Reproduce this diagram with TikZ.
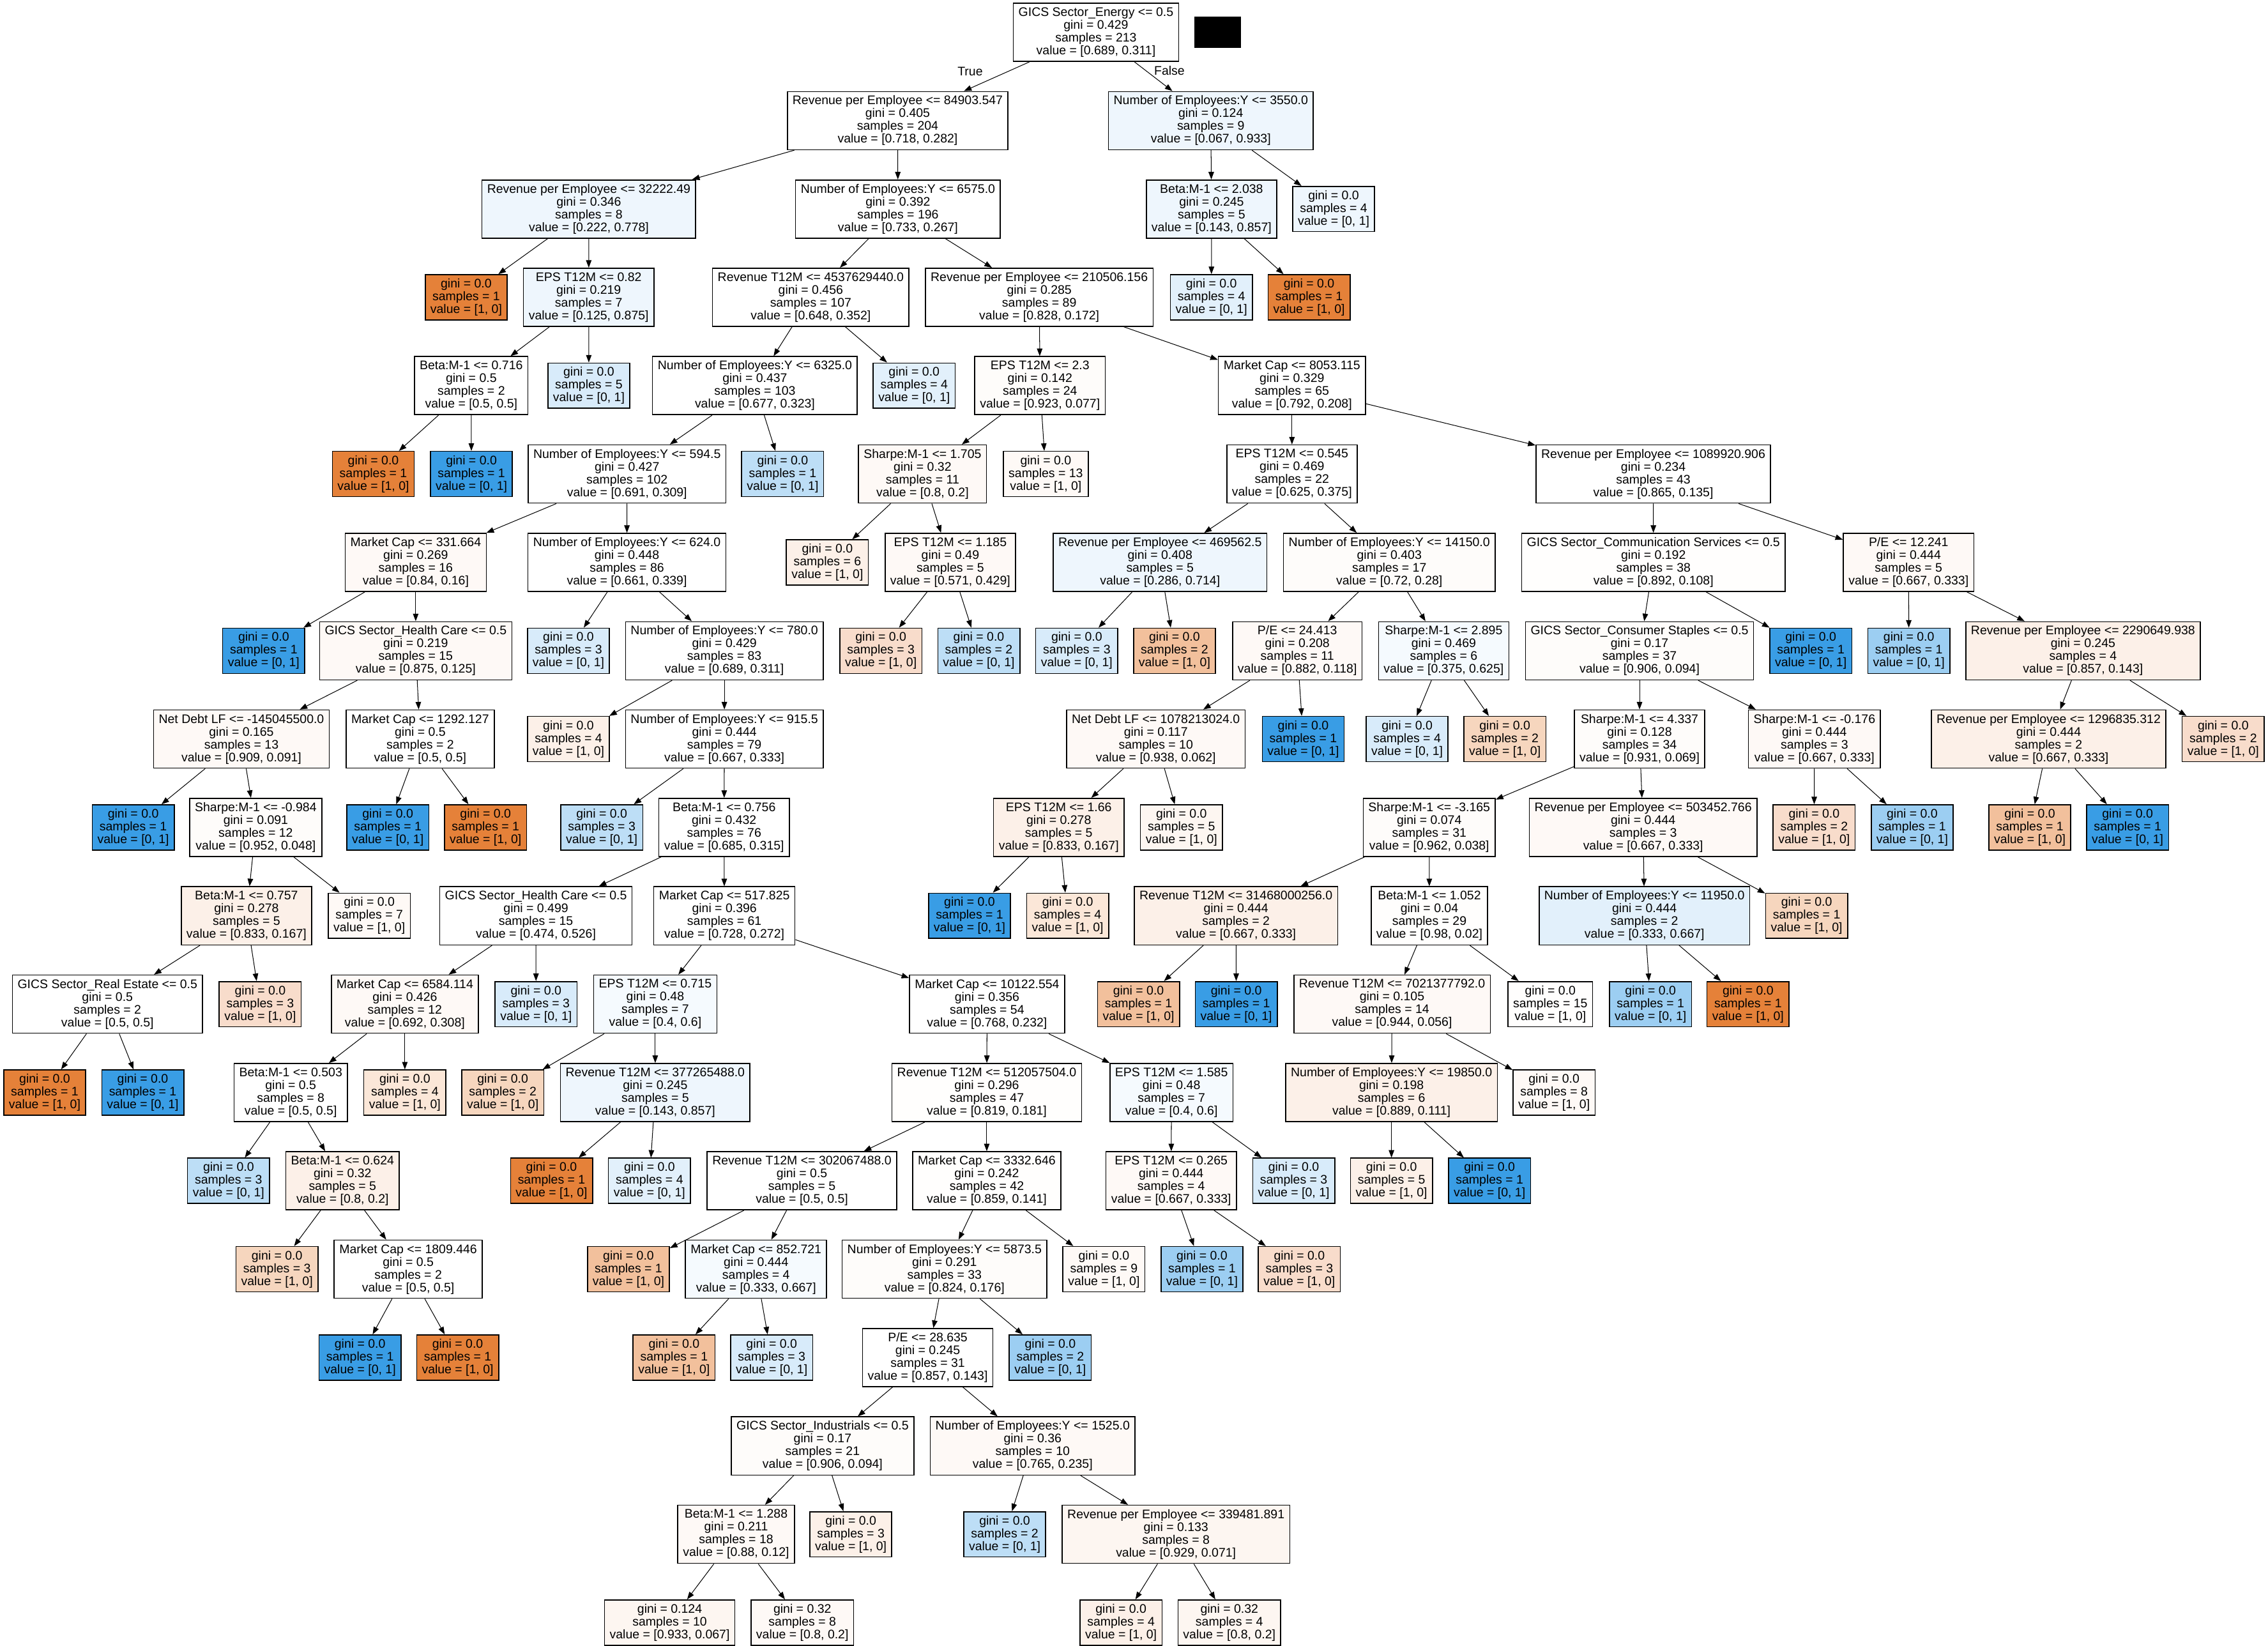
\documentclass[tikz,border=0pt]{standalone}
\usepackage{fontspec}
\setmainfont{Liberation Sans}
\usetikzlibrary{arrows.meta}
\definecolor{orfull}{HTML}{E58139}
\definecolor{or1}{HTML}{FFFEFD}
\definecolor{or2}{HTML}{FEFCFA}
\definecolor{or3}{HTML}{FEF9F6}
\definecolor{or4}{HTML}{FDF6F1}
\definecolor{or5}{HTML}{FCF0E8}
\definecolor{or6}{HTML}{FBE7D8}
\definecolor{or7}{HTML}{F8DCCB}
\definecolor{or8}{HTML}{F6D6BE}
\definecolor{or9}{HTML}{F2C09C}
\definecolor{blfull}{HTML}{399DE5}
\definecolor{bl1}{HTML}{F5FAFE}
\definecolor{bl2}{HTML}{EEF6FD}
\definecolor{bl3}{HTML}{E2F0FB}
\definecolor{bl4}{HTML}{D8EBFA}
\definecolor{bl5}{HTML}{BDDEF6}
\definecolor{bl6}{HTML}{9CCEF2}
\tikzset{
	treebox/.style={draw=black, line width=0.7pt, fill=white, rectangle, align=center, inner xsep=3.6pt, inner ysep=1pt, font=\fontsize{8.6}{8.83}\selectfont, text=black},
	splitbox/.style={treebox, minimum height=40.2pt},
	leafbox/.style={treebox, minimum height=31.3pt},
	link/.style={draw=black, line width=0.45pt, -{Triangle[length=5.2pt, width=3.8pt]}},
	edgelabel/.style={font=\fontsize{8.6}{8.83}\selectfont, inner sep=0pt, text=black}
}
\begin{document}
\begin{tikzpicture}[x=1pt, y=-1pt]
	\useasboundingbox[fill=white] (0,0) rectangle (1568,1137.9);
	\fill[black] (825.7,11.5) rectangle (858,33.1);
	\node[splitbox] (A) at (757.7,22.3) {GICS Sector\_Energy <= 0.5\\gini = 0.429\\samples = 213\\value = [0.689, 0.311]};
	\node[splitbox] (B) at (620.6,83.4) {Revenue per Employee <= 84903.547\\gini = 0.405\\samples = 204\\value = [0.718, 0.282]};
	\node[splitbox, fill=bl2] (C) at (837.1,83.4) {Number of Employees:Y <= 3550.0\\gini = 0.124\\samples = 9\\value = [0.067, 0.933]};
	\node[splitbox, fill=bl2] (D) at (407.1,144.5) {Revenue per Employee <= 32222.49\\gini = 0.346\\samples = 8\\value = [0.222, 0.778]};
	\node[splitbox] (E) at (620.8,144.5) {Number of Employees:Y <= 6575.0\\gini = 0.392\\samples = 196\\value = [0.733, 0.267]};
	\node[splitbox, fill=bl2] (F) at (837.6,144.5) {Beta:M-1 <= 2.038\\gini = 0.245\\samples = 5\\value = [0.143, 0.857]};
	\node[leafbox, fill=bl2] (G) at (922.0,144.5) {gini = 0.0\\samples = 4\\value = [0, 1]};
	\node[leafbox, fill=orfull] (H) at (322.3,205.5) {gini = 0.0\\samples = 1\\value = [1, 0]};
	\node[splitbox, fill=bl2] (I) at (407.0,205.5) {EPS T12M <= 0.82\\gini = 0.219\\samples = 7\\value = [0.125, 0.875]};
	\node[splitbox] (J) at (560.5,205.5) {Revenue T12M <= 4537629440.0\\gini = 0.456\\samples = 107\\value = [0.648, 0.352]};
	\node[splitbox] (K) at (718.5,205.5) {Revenue per Employee <= 210506.156\\gini = 0.285\\samples = 89\\value = [0.828, 0.172]};
	\node[leafbox, fill=bl3] (L) at (837.5,205.5) {gini = 0.0\\samples = 4\\value = [0, 1]};
	\node[leafbox, fill=orfull] (M) at (905.0,205.5) {gini = 0.0\\samples = 1\\value = [1, 0]};
	\node[splitbox] (N) at (325.8,266.6) {Beta:M-1 <= 0.716\\gini = 0.5\\samples = 2\\value = [0.5, 0.5]};
	\node[leafbox, fill=bl4] (O) at (407.1,266.6) {gini = 0.0\\samples = 5\\value = [0, 1]};
	\node[splitbox] (P) at (521.9,266.6) {Number of Employees:Y <= 6325.0\\gini = 0.437\\samples = 103\\value = [0.677, 0.323]};
	\node[leafbox, fill=bl3] (Q) at (632.0,266.6) {gini = 0.0\\samples = 4\\value = [0, 1]};
	\node[splitbox, fill=or2] (R) at (719.0,266.6) {EPS T12M <= 2.3\\gini = 0.142\\samples = 24\\value = [0.923, 0.077]};
	\node[splitbox] (S) at (893.2,266.6) {Market Cap <= 8053.115\\gini = 0.329\\samples = 65\\value = [0.792, 0.208]};
	\node[leafbox, fill=orfull] (T) at (258.1,327.7) {gini = 0.0\\samples = 1\\value = [1, 0]};
	\node[leafbox, fill=blfull] (U) at (325.9,327.7) {gini = 0.0\\samples = 1\\value = [0, 1]};
	\node[splitbox] (V) at (433.5,327.7) {Number of Employees:Y <= 594.5\\gini = 0.427\\samples = 102\\value = [0.691, 0.309]};
	\node[leafbox, fill=bl5] (W) at (541.1,327.7) {gini = 0.0\\samples = 1\\value = [0, 1]};
	\node[splitbox, fill=or3] (X) at (637.8,327.7) {Sharpe:M-1 <= 1.705\\gini = 0.32\\samples = 11\\value = [0.8, 0.2]};
	\node[leafbox, fill=or3] (Y) at (723.0,327.7) {gini = 0.0\\samples = 13\\value = [1, 0]};
	\node[splitbox] (Z) at (893.2,327.7) {EPS T12M <= 0.545\\gini = 0.469\\samples = 22\\value = [0.625, 0.375]};
	\node[splitbox] (AA) at (1143.0,327.7) {Revenue per Employee <= 1089920.906\\gini = 0.234\\samples = 43\\value = [0.865, 0.135]};
	\node[splitbox, fill=or3] (AB) at (287.4,388.8) {Market Cap <= 331.664\\gini = 0.269\\samples = 16\\value = [0.84, 0.16]};
	\node[splitbox] (AC) at (433.4,388.8) {Number of Employees:Y <= 624.0\\gini = 0.448\\samples = 86\\value = [0.661, 0.339]};
	\node[leafbox, fill=or5] (AD) at (572.0,388.8) {gini = 0.0\\samples = 6\\value = [1, 0]};
	\node[splitbox, fill=or3] (AE) at (657.0,388.8) {EPS T12M <= 1.185\\gini = 0.49\\samples = 5\\value = [0.571, 0.429]};
	\node[splitbox, fill=bl2] (AF) at (802.0,388.8) {Revenue per Employee <= 469562.5\\gini = 0.408\\samples = 5\\value = [0.286, 0.714]};
	\node[splitbox, fill=or2] (AG) at (960.5,388.8) {Number of Employees:Y <= 14150.0\\gini = 0.403\\samples = 17\\value = [0.72, 0.28]};
	\node[splitbox, fill=or1] (AH) at (1143.1,388.8) {GICS Sector\_Communication Services <= 0.5\\gini = 0.192\\samples = 38\\value = [0.892, 0.108]};
	\node[splitbox, fill=or3] (AI) at (1319.5,388.8) {P/E <= 12.241\\gini = 0.444\\samples = 5\\value = [0.667, 0.333]};
	\node[leafbox, fill=blfull] (AJ) at (182.3,449.9) {gini = 0.0\\samples = 1\\value = [0, 1]};
	\node[splitbox, fill=or3] (AK) at (287.4,449.9) {GICS Sector\_Health Care <= 0.5\\gini = 0.219\\samples = 15\\value = [0.875, 0.125]};
	\node[leafbox, fill=bl4] (AL) at (393.0,449.9) {gini = 0.0\\samples = 3\\value = [0, 1]};
	\node[splitbox] (AM) at (500.8,449.9) {Number of Employees:Y <= 780.0\\gini = 0.429\\samples = 83\\value = [0.689, 0.311]};
	\node[leafbox, fill=or7] (AN) at (609.0,449.9) {gini = 0.0\\samples = 3\\value = [1, 0]};
	\node[leafbox, fill=bl5] (AO) at (676.7,449.9) {gini = 0.0\\samples = 2\\value = [0, 1]};
	\node[leafbox, fill=bl4] (AP) at (744.4,449.9) {gini = 0.0\\samples = 3\\value = [0, 1]};
	\node[leafbox, fill=or9] (AQ) at (812.0,449.9) {gini = 0.0\\samples = 2\\value = [1, 0]};
	\node[splitbox, fill=or3] (AR) at (896.9,449.9) {P/E <= 24.413\\gini = 0.208\\samples = 11\\value = [0.882, 0.118]};
	\node[splitbox, fill=bl1] (AS) at (998.1,449.9) {Sharpe:M-1 <= 2.895\\gini = 0.469\\samples = 6\\value = [0.375, 0.625]};
	\node[splitbox, fill=or2] (AT) at (1133.5,449.9) {GICS Sector\_Consumer Staples <= 0.5\\gini = 0.17\\samples = 37\\value = [0.906, 0.094]};
	\node[leafbox, fill=blfull] (AU) at (1251.9,449.9) {gini = 0.0\\samples = 1\\value = [0, 1]};
	\node[leafbox, fill=bl6] (AV) at (1319.7,449.9) {gini = 0.0\\samples = 1\\value = [0, 1]};
	\node[splitbox, fill=or5] (AW) at (1440.1,449.9) {Revenue per Employee <= 2290649.938\\gini = 0.245\\samples = 4\\value = [0.857, 0.143]};
	\node[splitbox, fill=or3] (AX) at (166.9,510.9) {Net Debt LF <= -145045500.0\\gini = 0.165\\samples = 13\\value = [0.909, 0.091]};
	\node[splitbox] (AY) at (290.5,510.9) {Market Cap <= 1292.127\\gini = 0.5\\samples = 2\\value = [0.5, 0.5]};
	\node[leafbox, fill=or5] (AZ) at (393.0,510.9) {gini = 0.0\\samples = 4\\value = [1, 0]};
	\node[splitbox] (BA) at (500.8,510.9) {Number of Employees:Y <= 915.5\\gini = 0.444\\samples = 79\\value = [0.667, 0.333]};
	\node[splitbox, fill=or3] (BB) at (799.1,510.9) {Net Debt LF <= 1078213024.0\\gini = 0.117\\samples = 10\\value = [0.938, 0.062]};
	\node[leafbox, fill=blfull] (BC) at (901.0,510.9) {gini = 0.0\\samples = 1\\value = [0, 1]};
	\node[leafbox, fill=bl4] (BD) at (972.8,510.9) {gini = 0.0\\samples = 4\\value = [0, 1]};
	\node[leafbox, fill=or8] (BE) at (1040.4,510.9) {gini = 0.0\\samples = 2\\value = [1, 0]};
	\node[splitbox, fill=or2] (BF) at (1133.5,510.9) {Sharpe:M-1 <= 4.337\\gini = 0.128\\samples = 34\\value = [0.931, 0.069]};
	\node[splitbox, fill=or3] (BG) at (1254.4,510.9) {Sharpe:M-1 <= -0.176\\gini = 0.444\\samples = 3\\value = [0.667, 0.333]};
	\node[splitbox, fill=or5] (BH) at (1416.3,510.9) {Revenue per Employee <= 1296835.312\\gini = 0.444\\samples = 2\\value = [0.667, 0.333]};
	\node[leafbox, fill=or7] (BI) at (1537.0,510.9) {gini = 0.0\\samples = 2\\value = [1, 0]};
	\node[leafbox, fill=blfull] (BJ) at (92.1,572.0) {gini = 0.0\\samples = 1\\value = [0, 1]};
	\node[splitbox, fill=or2] (BK) at (176.8,572.0) {Sharpe:M-1 <= -0.984\\gini = 0.091\\samples = 12\\value = [0.952, 0.048]};
	\node[leafbox, fill=blfull] (BL) at (268.1,572.0) {gini = 0.0\\samples = 1\\value = [0, 1]};
	\node[leafbox, fill=orfull] (BM) at (335.7,572.0) {gini = 0.0\\samples = 1\\value = [1, 0]};
	\node[leafbox, fill=bl5] (BN) at (416.0,572.0) {gini = 0.0\\samples = 3\\value = [0, 1]};
	\node[splitbox] (BO) at (500.6,572.0) {Beta:M-1 <= 0.756\\gini = 0.432\\samples = 76\\value = [0.685, 0.315]};
	\node[splitbox, fill=or5] (BP) at (732.0,572.0) {EPS T12M <= 1.66\\gini = 0.278\\samples = 5\\value = [0.833, 0.167]};
	\node[leafbox, fill=or4] (BQ) at (816.8,572.0) {gini = 0.0\\samples = 5\\value = [1, 0]};
	\node[splitbox, fill=or2] (BR) at (988.1,572.0) {Sharpe:M-1 <= -3.165\\gini = 0.074\\samples = 31\\value = [0.962, 0.038]};
	\node[splitbox, fill=or3] (BS) at (1136.0,572.0) {Revenue per Employee <= 503452.766\\gini = 0.444\\samples = 3\\value = [0.667, 0.333]};
	\node[leafbox, fill=or7] (BT) at (1254.2,572.0) {gini = 0.0\\samples = 2\\value = [1, 0]};
	\node[leafbox, fill=bl6] (BU) at (1322.0,572.0) {gini = 0.0\\samples = 1\\value = [0, 1]};
	\node[leafbox, fill=or9] (BV) at (1403.3,572.0) {gini = 0.0\\samples = 1\\value = [1, 0]};
	\node[leafbox, fill=blfull] (BW) at (1470.9,572.0) {gini = 0.0\\samples = 1\\value = [0, 1]};
	\node[splitbox, fill=or5] (BX) at (170.4,633.1) {Beta:M-1 <= 0.757\\gini = 0.278\\samples = 5\\value = [0.833, 0.167]};
	\node[leafbox, fill=or3] (BY) at (255.3,633.1) {gini = 0.0\\samples = 7\\value = [1, 0]};
	\node[splitbox] (BZ) at (370.5,633.1) {GICS Sector\_Health Care <= 0.5\\gini = 0.499\\samples = 15\\value = [0.474, 0.526]};
	\node[splitbox] (CA) at (500.8,633.1) {Market Cap <= 517.825\\gini = 0.396\\samples = 61\\value = [0.728, 0.272]};
	\node[leafbox, fill=blfull] (CB) at (670.3,633.1) {gini = 0.0\\samples = 1\\value = [0, 1]};
	\node[leafbox, fill=or6] (CC) at (738.1,633.1) {gini = 0.0\\samples = 4\\value = [1, 0]};
	\node[splitbox, fill=or5] (CD) at (854.5,633.1) {Revenue T12M <= 31468000256.0\\gini = 0.444\\samples = 2\\value = [0.667, 0.333]};
	\node[splitbox, fill=or1] (CE) at (988.2,633.1) {Beta:M-1 <= 1.052\\gini = 0.04\\samples = 29\\value = [0.98, 0.02]};
	\node[splitbox, fill=bl3] (CF) at (1136.9,633.1) {Number of Employees:Y <= 11950.0\\gini = 0.444\\samples = 2\\value = [0.333, 0.667]};
	\node[leafbox, fill=or8] (CF2) at (1249.0,633.1) {gini = 0.0\\samples = 1\\value = [1, 0]};
	\node[splitbox] (CG) at (74.3,694.2) {GICS Sector\_Real Estate <= 0.5\\gini = 0.5\\samples = 2\\value = [0.5, 0.5]};
	\node[leafbox, fill=or7] (CH) at (179.9,694.2) {gini = 0.0\\samples = 3\\value = [1, 0]};
	\node[splitbox, fill=or3] (CI) at (279.9,694.2) {Market Cap <= 6584.114\\gini = 0.426\\samples = 12\\value = [0.692, 0.308]};
	\node[leafbox, fill=bl4] (CJ) at (370.6,694.2) {gini = 0.0\\samples = 3\\value = [0, 1]};
	\node[splitbox, fill=bl1] (CK) at (453.0,694.2) {EPS T12M <= 0.715\\gini = 0.48\\samples = 7\\value = [0.4, 0.6]};
	\node[splitbox] (CL) at (682.4,694.2) {Market Cap <= 10122.554\\gini = 0.356\\samples = 54\\value = [0.768, 0.232]};
	\node[leafbox, fill=or9] (CM) at (787.1,694.2) {gini = 0.0\\samples = 1\\value = [1, 0]};
	\node[leafbox, fill=blfull] (CN) at (854.7,694.2) {gini = 0.0\\samples = 1\\value = [0, 1]};
	\node[splitbox, fill=or3] (CO) at (962.4,694.2) {Revenue T12M <= 7021377792.0\\gini = 0.105\\samples = 14\\value = [0.944, 0.056]};
	\node[leafbox, fill=or1] (CP) at (1071.8,694.2) {gini = 0.0\\samples = 15\\value = [1, 0]};
	\node[leafbox, fill=bl6] (CQ) at (1141.1,694.2) {gini = 0.0\\samples = 1\\value = [0, 1]};
	\node[leafbox, fill=orfull] (CR) at (1208.5,694.2) {gini = 0.0\\samples = 1\\value = [1, 0]};
	\node[leafbox, fill=orfull] (CS) at (30.9,755.3) {gini = 0.0\\samples = 1\\value = [1, 0]};
	\node[leafbox, fill=blfull] (CT) at (98.7,755.3) {gini = 0.0\\samples = 1\\value = [0, 1]};
	\node[splitbox] (CU) at (201.0,755.3) {Beta:M-1 <= 0.503\\gini = 0.5\\samples = 8\\value = [0.5, 0.5]};
	\node[leafbox, fill=or6] (CV) at (279.9,755.3) {gini = 0.0\\samples = 4\\value = [1, 0]};
	\node[leafbox, fill=or8] (CW) at (347.6,755.3) {gini = 0.0\\samples = 2\\value = [1, 0]};
	\node[splitbox, fill=bl2] (CX) at (453.0,755.3) {Revenue T12M <= 377265488.0\\gini = 0.245\\samples = 5\\value = [0.143, 0.857]};
	\node[splitbox, fill=or1] (CY) at (682.2,755.3) {Revenue T12M <= 512057504.0\\gini = 0.296\\samples = 47\\value = [0.819, 0.181]};
	\node[splitbox, fill=bl1] (CZ) at (809.9,755.3) {EPS T12M <= 1.585\\gini = 0.48\\samples = 7\\value = [0.4, 0.6]};
	\node[splitbox, fill=or5] (DA) at (962.0,755.3) {Number of Employees:Y <= 19850.0\\gini = 0.198\\samples = 6\\value = [0.889, 0.111]};
	\node[leafbox, fill=or3] (DB) at (1074.4,755.3) {gini = 0.0\\samples = 8\\value = [1, 0]};
	\node[leafbox, fill=bl5] (DC) at (158.0,816.3) {gini = 0.0\\samples = 3\\value = [0, 1]};
	\node[splitbox, fill=or5] (DD) at (236.8,816.3) {Beta:M-1 <= 0.624\\gini = 0.32\\samples = 5\\value = [0.8, 0.2]};
	\node[leafbox, fill=orfull] (DE) at (381.3,816.3) {gini = 0.0\\samples = 1\\value = [1, 0]};
	\node[leafbox, fill=bl3] (DF) at (449.0,816.3) {gini = 0.0\\samples = 4\\value = [0, 1]};
	\node[splitbox] (DG) at (554.4,816.3) {Revenue T12M <= 302067488.0\\gini = 0.5\\samples = 5\\value = [0.5, 0.5]};
	\node[splitbox, fill=or1] (DH) at (682.2,816.3) {Market Cap <= 3332.646\\gini = 0.242\\samples = 42\\value = [0.859, 0.141]};
	\node[splitbox, fill=or3] (DI) at (809.7,816.3) {EPS T12M <= 0.265\\gini = 0.444\\samples = 4\\value = [0.667, 0.333]};
	\node[leafbox, fill=bl4] (DJ) at (894.4,816.3) {gini = 0.0\\samples = 3\\value = [0, 1]};
	\node[leafbox, fill=or5] (DK) at (962.0,816.3) {gini = 0.0\\samples = 5\\value = [1, 0]};
	\node[leafbox, fill=blfull] (DL) at (1029.8,816.3) {gini = 0.0\\samples = 1\\value = [0, 1]};
	\node[leafbox, fill=or8] (DM) at (191.5,877.4) {gini = 0.0\\samples = 3\\value = [1, 0]};
	\node[splitbox] (DN) at (282.2,877.4) {Market Cap <= 1809.446\\gini = 0.5\\samples = 2\\value = [0.5, 0.5]};
	\node[leafbox, fill=or9] (DO) at (434.5,877.4) {gini = 0.0\\samples = 1\\value = [1, 0]};
	\node[splitbox, fill=bl1] (DP) at (522.7,877.4) {Market Cap <= 852.721\\gini = 0.444\\samples = 4\\value = [0.333, 0.667]};
	\node[splitbox, fill=or2] (DQ) at (653.0,877.4) {Number of Employees:Y <= 5873.5\\gini = 0.291\\samples = 33\\value = [0.824, 0.176]};
	\node[leafbox, fill=or3] (DR) at (763.2,877.4) {gini = 0.0\\samples = 9\\value = [1, 0]};
	\node[leafbox, fill=bl6] (DS) at (831.0,877.4) {gini = 0.0\\samples = 1\\value = [0, 1]};
	\node[leafbox, fill=or7] (DT) at (898.3,877.4) {gini = 0.0\\samples = 3\\value = [1, 0]};
	\node[leafbox, fill=blfull] (DU) at (248.9,938.5) {gini = 0.0\\samples = 1\\value = [0, 1]};
	\node[leafbox, fill=orfull] (DV) at (316.4,938.5) {gini = 0.0\\samples = 1\\value = [1, 0]};
	\node[leafbox, fill=or9] (DW) at (466.0,938.5) {gini = 0.0\\samples = 1\\value = [1, 0]};
	\node[leafbox, fill=bl4] (DX) at (533.5,938.5) {gini = 0.0\\samples = 3\\value = [0, 1]};
	\node[splitbox] (DY) at (641.4,938.5) {P/E <= 28.635\\gini = 0.245\\samples = 31\\value = [0.857, 0.143]};
	\node[leafbox, fill=bl6] (DZ) at (726.1,938.5) {gini = 0.0\\samples = 2\\value = [0, 1]};
	\node[splitbox, fill=or2] (EA) at (568.7,999.6) {GICS Sector\_Industrials <= 0.5\\gini = 0.17\\samples = 21\\value = [0.906, 0.094]};
	\node[splitbox, fill=or3] (EB) at (713.9,999.6) {Number of Employees:Y <= 1525.0\\gini = 0.36\\samples = 10\\value = [0.765, 0.235]};
	\node[splitbox, fill=or3] (EC) at (508.9,1060.7) {Beta:M-1 <= 1.288\\gini = 0.211\\samples = 18\\value = [0.88, 0.12]};
	\node[leafbox, fill=or5] (ED) at (588.2,1060.7) {gini = 0.0\\samples = 3\\value = [1, 0]};
	\node[leafbox, fill=bl5] (EE) at (694.6,1060.7) {gini = 0.0\\samples = 2\\value = [0, 1]};
	\node[splitbox, fill=or4] (EF) at (813.0,1060.7) {Revenue per Employee <= 339481.891\\gini = 0.133\\samples = 8\\value = [0.929, 0.071]};
	\node[leafbox, fill=or4] (EG) at (463.0,1121.7) {gini = 0.124\\samples = 10\\value = [0.933, 0.067]};
	\node[leafbox, fill=or3] (EH) at (554.7,1121.7) {gini = 0.32\\samples = 8\\value = [0.8, 0.2]};
	\node[leafbox, fill=or5] (EI) at (775.0,1121.7) {gini = 0.0\\samples = 4\\value = [1, 0]};
	\node[leafbox, fill=or4] (EJ) at (849.9,1121.7) {gini = 0.32\\samples = 4\\value = [0.8, 0.2]};
	\node[edgelabel] (lbltrue) at (670.7,49.3) {True};
	\node[edgelabel] (lblfalse) at (808.5,48.6) {False};
	\draw[link] (A) -- (B);
	\draw[link] (A) -- (C);
	\draw[link] (B) -- (D);
	\draw[link] (B) -- (E);
	\draw[link] (C) -- (F);
	\draw[link] (C) -- (G);
	\draw[link] (D) -- (H);
	\draw[link] (D) -- (I);
	\draw[link] (E) -- (J);
	\draw[link] (E) -- (K);
	\draw[link] (F) -- (L);
	\draw[link] (F) -- (M);
	\draw[link] (I) -- (N);
	\draw[link] (I) -- (O);
	\draw[link] (J) -- (P);
	\draw[link] (J) -- (Q);
	\draw[link] (K) -- (R);
	\draw[link] (K) -- (S);
	\draw[link] (N) -- (T);
	\draw[link] (N) -- (U);
	\draw[link] (P) -- (V);
	\draw[link] (P) -- (W);
	\draw[link] (R) -- (X);
	\draw[link] (R) -- (Y);
	\draw[link] (S) -- (Z);
	\draw[link] (S) -- (AA);
	\draw[link] (V) -- (AB);
	\draw[link] (V) -- (AC);
	\draw[link] (X) -- (AD);
	\draw[link] (X) -- (AE);
	\draw[link] (Z) -- (AF);
	\draw[link] (Z) -- (AG);
	\draw[link] (AA) -- (AH);
	\draw[link] (AA) -- (AI);
	\draw[link] (AB) -- (AJ);
	\draw[link] (AB) -- (AK);
	\draw[link] (AC) -- (AL);
	\draw[link] (AC) -- (AM);
	\draw[link] (AE) -- (AN);
	\draw[link] (AE) -- (AO);
	\draw[link] (AF) -- (AP);
	\draw[link] (AF) -- (AQ);
	\draw[link] (AG) -- (AR);
	\draw[link] (AG) -- (AS);
	\draw[link] (AH) -- (AT);
	\draw[link] (AH) -- (AU);
	\draw[link] (AI) -- (AV);
	\draw[link] (AI) -- (AW);
	\draw[link] (AK) -- (AX);
	\draw[link] (AK) -- (AY);
	\draw[link] (AM) -- (AZ);
	\draw[link] (AM) -- (BA);
	\draw[link] (AR) -- (BB);
	\draw[link] (AR) -- (BC);
	\draw[link] (AS) -- (BD);
	\draw[link] (AS) -- (BE);
	\draw[link] (AT) -- (BF);
	\draw[link] (AT) -- (BG);
	\draw[link] (AW) -- (BH);
	\draw[link] (AW) -- (BI);
	\draw[link] (AX) -- (BJ);
	\draw[link] (AX) -- (BK);
	\draw[link] (AY) -- (BL);
	\draw[link] (AY) -- (BM);
	\draw[link] (BA) -- (BN);
	\draw[link] (BA) -- (BO);
	\draw[link] (BB) -- (BP);
	\draw[link] (BB) -- (BQ);
	\draw[link] (BF) -- (BR);
	\draw[link] (BF) -- (BS);
	\draw[link] (BG) -- (BT);
	\draw[link] (BG) -- (BU);
	\draw[link] (BH) -- (BV);
	\draw[link] (BH) -- (BW);
	\draw[link] (BK) -- (BX);
	\draw[link] (BK) -- (BY);
	\draw[link] (BO) -- (BZ);
	\draw[link] (BO) -- (CA);
	\draw[link] (BP) -- (CB);
	\draw[link] (BP) -- (CC);
	\draw[link] (BR) -- (CD);
	\draw[link] (BR) -- (CE);
	\draw[link] (BS) -- (CF);
	\draw[link] (BS) -- (CF2);
	\draw[link] (BX) -- (CG);
	\draw[link] (BX) -- (CH);
	\draw[link] (BZ) -- (CI);
	\draw[link] (BZ) -- (CJ);
	\draw[link] (CA) -- (CK);
	\draw[link] (CA) -- (CL);
	\draw[link] (CD) -- (CM);
	\draw[link] (CD) -- (CN);
	\draw[link] (CE) -- (CO);
	\draw[link] (CE) -- (CP);
	\draw[link] (CF) -- (CQ);
	\draw[link] (CF) -- (CR);
	\draw[link] (CG) -- (CS);
	\draw[link] (CG) -- (CT);
	\draw[link] (CI) -- (CU);
	\draw[link] (CI) -- (CV);
	\draw[link] (CK) -- (CW);
	\draw[link] (CK) -- (CX);
	\draw[link] (CL) -- (CY);
	\draw[link] (CL) -- (CZ);
	\draw[link] (CO) -- (DA);
	\draw[link] (CO) -- (DB);
	\draw[link] (CU) -- (DC);
	\draw[link] (CU) -- (DD);
	\draw[link] (CX) -- (DE);
	\draw[link] (CX) -- (DF);
	\draw[link] (CY) -- (DG);
	\draw[link] (CY) -- (DH);
	\draw[link] (CZ) -- (DI);
	\draw[link] (CZ) -- (DJ);
	\draw[link] (DA) -- (DK);
	\draw[link] (DA) -- (DL);
	\draw[link] (DD) -- (DM);
	\draw[link] (DD) -- (DN);
	\draw[link] (DG) -- (DO);
	\draw[link] (DG) -- (DP);
	\draw[link] (DH) -- (DQ);
	\draw[link] (DH) -- (DR);
	\draw[link] (DI) -- (DS);
	\draw[link] (DI) -- (DT);
	\draw[link] (DN) -- (DU);
	\draw[link] (DN) -- (DV);
	\draw[link] (DP) -- (DW);
	\draw[link] (DP) -- (DX);
	\draw[link] (DQ) -- (DY);
	\draw[link] (DQ) -- (DZ);
	\draw[link] (DY) -- (EA);
	\draw[link] (DY) -- (EB);
	\draw[link] (EA) -- (EC);
	\draw[link] (EA) -- (ED);
	\draw[link] (EB) -- (EE);
	\draw[link] (EB) -- (EF);
	\draw[link] (EC) -- (EG);
	\draw[link] (EC) -- (EH);
	\draw[link] (EF) -- (EI);
	\draw[link] (EF) -- (EJ);
\end{tikzpicture}
\end{document}
